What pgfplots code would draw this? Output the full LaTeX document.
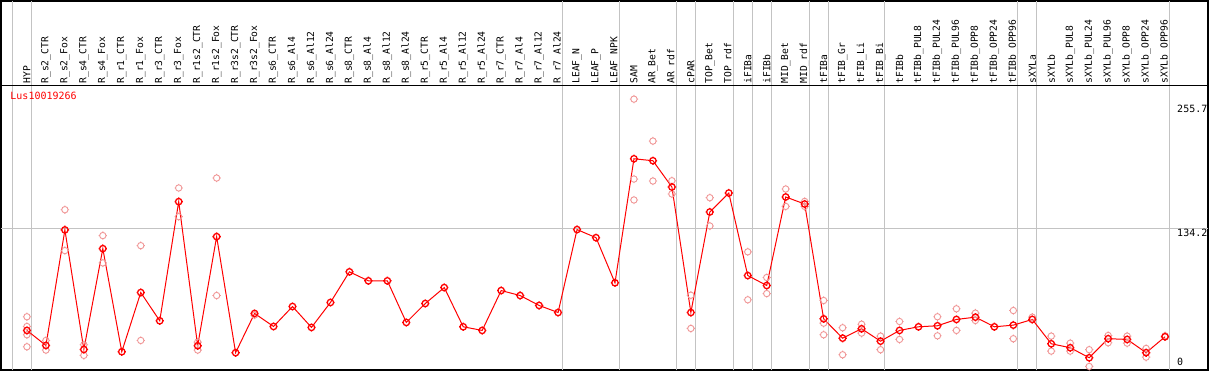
\documentclass[border=0pt]{standalone}
\usepackage{pgfplots}
\pgfplotsset{compat=1.18}
\usepackage{pgfplotstable}
\usepackage{fontspec}
\newfontfamily\chartfont{DejaVu Sans Mono}
\definecolor{palered}{RGB}{240,150,150}
\definecolor{gridgray}{RGB}{195,195,195}
\pgfdeclareplotmark{spk}{%
  \pgfpathcircle{\pgfpointorigin}{\pgfplotmarksize}%
  \pgfpathmoveto{\pgfpoint{0pt}{\pgfplotmarksize}}\pgfpathlineto{\pgfpoint{0pt}{1.3\pgfplotmarksize}}%
  \pgfpathmoveto{\pgfpoint{0pt}{-\pgfplotmarksize}}\pgfpathlineto{\pgfpoint{0pt}{-1.3\pgfplotmarksize}}%
  \pgfpathmoveto{\pgfpoint{\pgfplotmarksize}{0pt}}\pgfpathlineto{\pgfpoint{1.3\pgfplotmarksize}{0pt}}%
  \pgfpathmoveto{\pgfpoint{-\pgfplotmarksize}{0pt}}\pgfpathlineto{\pgfpoint{-1.3\pgfplotmarksize}{0pt}}%
  \pgfusepathqstroke}

\pgfplotstableread{
x y
0 36.2
1 21.7
2 133.3
3 17.8
4 115.2
5 15.6
6 72.8
7 45.5
8 160.6
9 21.4
10 126.8
11 14.7
12 52.6
13 40.0
14 59.3
15 39.1
16 63.2
17 92.8
18 84.1
19 84.1
20 43.9
21 62.2
22 77.6
23 39.7
24 36.2
25 74.7
26 69.9
27 60.3
28 53.5
29 133.6
30 125.8
31 82.2
32 202.0
33 200.1
34 174.7
35 53.5
36 150.6
37 168.9
38 89.2
39 79.6
40 165.1
41 158.3
42 47.4
43 28.7
44 37.8
45 25.8
46 36.2
47 39.7
48 40.7
49 46.8
50 49.0
51 39.7
52 41.3
53 46.8
54 23.3
55 19.5
56 9.8
57 28.2
58 27.5
59 14.7
60 30.1
}\meandata

\pgfplotstableread{
x y
0 49.4
0 40.0
0 32.0
0 20.4
1 26.5
1 17.2
2 152.8
2 113.3
3 22.4
3 12.1
4 127.8
4 101.4
6 118.1
6 26.5
8 173.8
8 146.1
9 24.9
9 17.2
10 183.4
10 69.9
12 51.0
32 259.6
32 182.4
32 162.2
33 219.1
33 180.5
34 180.8
34 168.0
35 70.2
35 38.1
36 164.4
36 137.1
38 112.1
38 65.8
39 87.3
39 71.8
40 172.8
40 156.0
41 160.8
41 156.0
42 65.1
42 43.2
42 32.0
43 38.8
43 12.7
44 42.2
44 33.6
45 30.7
45 17.6
46 44.8
46 27.5
48 49.4
48 31.0
49 57.1
49 36.2
50 52.9
50 45.8
52 55.4
52 28.2
53 49.0
54 30.7
54 16.2
55 23.9
55 16.2
56 17.6
56 1.4
57 31.3
57 24.3
58 30.7
58 23.9
59 18.8
59 10.4
60 31.0
}\repdata

\begin{document}
\begin{tikzpicture}
\begin{axis}[
  scale only axis, width=1209pt, height=370pt,
  xmin=-1.368, xmax=62.263, ymin=-2.41, ymax=354.4,
  axis line style={black, line width=2pt},
  xtick={0,...,60},
  xticklabels={HYP,R\_s2\_CTR,R\_s2\_Fox,R\_s4\_CTR,R\_s4\_Fox,R\_r1\_CTR,R\_r1\_Fox,R\_r3\_CTR,R\_r3\_Fox,R\_r1s2\_CTR,R\_r1s2\_Fox,R\_r3s2\_CTR,R\_r3s2\_Fox,R\_s6\_CTR,R\_s6\_Al4,R\_s6\_Al12,R\_s6\_Al24,R\_s8\_CTR,R\_s8\_Al4,R\_s8\_Al12,R\_s8\_Al24,R\_r5\_CTR,R\_r5\_Al4,R\_r5\_Al12,R\_r5\_Al24,R\_r7\_CTR,R\_r7\_Al4,R\_r7\_Al12,R\_r7\_Al24,LEAF\_N,LEAF\_P,LEAF\_NPK,SAM,AR\_Bet,AR\_rdf,cPAR,TOP\_Bet,TOP\_rdf,iFIBa,iFIBb,MID\_Bet,MID\_rdf,tFIBa,tFIB\_Gr,tFIB\_Li,tFIB\_Bi,tFIBb,tFIBb\_PUL8,tFIBb\_PUL24,tFIBb\_PUL96,tFIBb\_OPP8,tFIBb\_OPP24,tFIBb\_OPP96,sXYLa,sXYLb,sXYLb\_PUL8,sXYLb\_PUL24,sXYLb\_PUL96,sXYLb\_OPP8,sXYLb\_OPP24,sXYLb\_OPP96},
  major tick length=0pt,
  xticklabel style={font=\chartfont\fontsize{9.7}{11}\selectfont, rotate=90, anchor=west, inner sep=0pt},
  xticklabel shift=-287pt,
  ytick=\empty,
  extra x ticks={-0.77,0.23,28.23,31.23,34.23,35.23,37.23,38.23,39.23,41.23,42.23,45.23,52.23,53.23,60.23},
  extra x tick labels={},
  extra x tick style={grid=major, major grid style={color=gridgray, line width=1pt}},
  clip=false,
]
\draw[gridgray, line width=1pt] (axis cs:-1.368,134.2) -- (axis cs:62.263,134.2);
\addplot[only marks, mark=spk, mark size=3.2pt, mark options={draw=palered, line width=0.9pt}] table[x=x,y=y] {\repdata};
\addplot[red, line width=1pt, mark=spk, mark size=3.2pt, mark options={draw=red, line width=1.3pt}] table[x=x,y=y] {\meandata};
\draw[black, line width=1.2pt] (axis cs:-1.368,272.4) -- (axis cs:62.263,272.4);
\node[anchor=west, inner sep=0pt, font=\chartfont\fontsize{10}{12}\selectfont, text=red] at (axis cs:-0.879,262.5) {Lus10019266};
\node[anchor=west, inner sep=0pt, font=\chartfont\fontsize{10}{12}\selectfont] at (axis cs:60.63,250.5) {255.7};
\node[anchor=west, inner sep=0pt, font=\chartfont\fontsize{10}{12}\selectfont] at (axis cs:60.63,130.4) {134.2};
\node[anchor=west, inner sep=0pt, font=\chartfont\fontsize{10}{12}\selectfont] at (axis cs:60.63,5.6) {0};
\end{axis}
\end{tikzpicture}
\end{document}
